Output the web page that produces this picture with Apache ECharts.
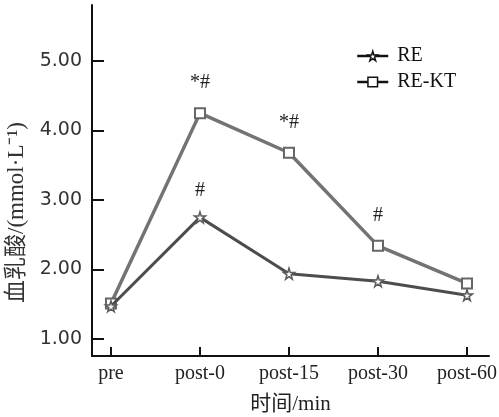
<!DOCTYPE html>
<html>
<head>
<meta charset="utf-8">
<script src="https://cdn.jsdelivr.net/npm/echarts@6/dist/echarts.min.js"></script>
<style>
  html, body { margin: 0; padding: 0; background: #fff; }
  #main { width: 499px; height: 417px; }
</style>
</head>
<body>
<div id="main"></div>
<script>
// 数据
var categories = ['pre', 'post-0', 'post-15', 'post-30', 'post-60'];
var yTicks = [1, 2, 3, 4, 5];
var reValues = [1.47, 2.75, 1.94, 1.83, 1.63];
var rektValues = [1.51, 4.25, 3.68, 2.34, 1.80];
var reMarks = ['', '#', '', '', ''];
var rektMarks = ['', '*#', '*#', '#', ''];

var starPath = 'path://M50,0 L61,35 L98,35 L68,57 L79,91 L50,70 L21,91 L32,57 L2,35 L39,35 Z';

function toPoints(vals) {
    return vals.map(function (v, i) { return [i, v]; });
}

var chart = echarts.init(document.getElementById('main'));

var option = {
    animation: false,
    grid: { left: 92, right: 10, top: 5, bottom: 61, outerBoundsMode: 'none', containLabel: false },
    legend: {
        left: 351,
        top: 41,
        orient: 'vertical',
        itemWidth: 31,
        itemHeight: 12,
        itemGap: 6,
        textStyle: { fontFamily: 'Liberation Serif', fontSize: 20, color: '#111', padding: [0, 0, 0, 4] },
        lineStyle: { color: '#111', width: 2.5 },
        itemStyle: { color: '#fff', borderColor: '#111', borderWidth: 1.5 },
        data: ['RE', 'RE-KT']
    },
    xAxis: {
        type: 'value',
        min: -0.213,
        max: 4.247,
        splitLine: { show: false },
        axisLine: { onZero: false, lineStyle: { color: '#111', width: 2 } },
        axisTick: { inside: true, length: 9, customValues: [0, 1, 2, 3, 4], lineStyle: { color: '#111', width: 2 } },
        axisLabel: {
            customValues: [0, 1, 2, 3, 4],
            formatter: function (v) { return categories[Math.round(v)]; },
            fontFamily: 'Liberation Serif',
            fontSize: 20,
            color: '#222',
            margin: 8
        },
        name: '时间/min',
        nameLocation: 'middle',
        nameGap: 38,
        nameTextStyle: { fontFamily: 'Liberation Serif, Noto Sans CJK SC', fontSize: 21, color: '#222' }
    },
    yAxis: {
        type: 'value',
        min: 0.755,
        max: 5.806,
        splitLine: { show: false },
        axisLine: { onZero: false, lineStyle: { color: '#111', width: 2 } },
        axisTick: { inside: true, length: 12, customValues: yTicks, lineStyle: { color: '#111', width: 2 } },
        axisLabel: {
            customValues: yTicks,
            formatter: function (v) { return v.toFixed(2); },
            fontFamily: 'DejaVu Sans',
            fontSize: 19,
            color: '#333',
            margin: 10
        },
        name: '血乳酸/(mmol·L⁻¹)',
        nameLocation: 'middle',
        nameRotate: 90,
        nameGap: 59,
        nameTextStyle: { fontFamily: 'Liberation Serif, Noto Sans CJK SC', fontSize: 23, color: '#333', padding: [0, 64, 0, 0] }
    },
    series: [
        {
            name: 'RE',
            type: 'line',
            data: toPoints(reValues),
            symbol: starPath,
            symbolSize: 11,
            lineStyle: { color: '#4d4d4d', width: 3 },
            itemStyle: { color: '#fff', borderColor: '#5a5a5a', borderWidth: 1.5 },
            label: {
                show: true,
                position: 'top',
                distance: 10,
                fontFamily: 'Liberation Serif',
                fontSize: 20,
                color: '#222',
                formatter: function (p) { return reMarks[p.dataIndex]; }
            },
            z: 3
        },
        {
            name: 'RE-KT',
            type: 'line',
            data: toPoints(rektValues),
            symbol: 'rect',
            symbolSize: 10,
            lineStyle: { color: '#737373', width: 3.5 },
            itemStyle: { color: '#fff', borderColor: '#666', borderWidth: 2 },
            label: {
                show: true,
                position: 'top',
                distance: 14,
                fontFamily: 'Liberation Serif',
                fontSize: 20,
                color: '#222',
                formatter: function (p) { return rektMarks[p.dataIndex]; }
            },
            z: 2
        }
    ]
};

chart.setOption(option);
</script>
</body>
</html>
